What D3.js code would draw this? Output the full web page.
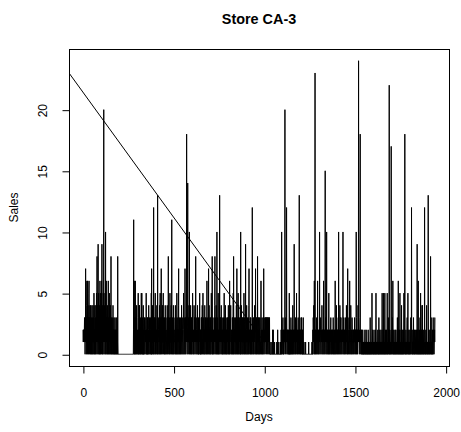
<!DOCTYPE html>
<html><head><meta charset="utf-8">
<script src="https://cdn.jsdelivr.net/npm/d3@7"></script>
<style>
body{margin:0;background:#fff}
svg{display:block}
text{font-family:"Liberation Sans", Arial, Helvetica, sans-serif;fill:#000}
</style>
</head><body>
<svg id="chart" width="461" height="432"></svg>
<script>
// ---- data (daily sales, day 1..1941) ----
const sales = [
2,1,2,2,1,2,1,2,3,1, 2,0,3,1,7,2,1,3,0,2, 4,6,1,3,0,6,2,4,1,3, 0,2,5,6,1,3,0,2,4,1,
3,0,4,1,2,3,0,2,1,4, 0,3,1,2,0,4,2,1,3,0, 5,1,2,0,3,4,1,2,0,3, 1,4,0,2,5,1,3,8,0,2,
4,1,3,9,0,2,5,1,3,0, 2,4,0,6,1,3,0,5,2,1, 3,0,6,2,9,1,4,0,3,2, 0,5,1,3,20,2,0,4,1,3,
2,5,0,1,10,3,0,2,6,1, 3,0,2,1,4,0,3,1,2,6, 0,2,1,3,0,5,1,2,0,3, 1,4,0,2,8,1,3,0,2,1,
0,3,1,2,0,4,1,0,2,1, 3,0,1,2,0,1,3,0,2,1, 0,2,1,3,0,1,2,0,1,3, 0,8,1,0,0,0,0,0,0,0,
0,0,0,0,0,0,0,0,0,0, 0,0,0,0,0,0,0,0,0,0, 0,0,0,0,0,0,0,0,0,0, 0,0,0,0,0,0,0,0,0,0,
0,0,0,0,0,0,0,0,0,0, 0,0,0,0,0,0,0,0,0,0, 0,0,0,0,0,0,0,0,0,0, 0,0,0,0,0,0,0,0,2,11,
1,0,6,2,0,3,1,0,6,2, 0,3,1,2,0,4,2,1,0,1, 2,1,0,3,5,0,2,1,0,4, 0,4,1,2,1,0,3,0,2,1,
1,5,0,1,5,1,0,3,2,0, 2,0,4,1,0,2,0,1,3,2, 1,0,3,2,1,1,2,0,5,1, 2,0,1,0,3,0,3,1,1,0,
0,2,4,1,0,2,1,3,2,0, 1,3,2,0,1,2,5,0,7,0, 2,1,0,4,2,1,1,3,0,12, 1,0,3,2,1,3,0,1,5,1,
0,3,2,1,1,2,0,4,1,2, 0,13,2,1,0,3,2,1,1,0, 2,1,4,0,2,5,1,0,3,2, 1,7,2,0,3,1,2,0,4,1,
2,1,5,1,0,2,3,1,3,0, 2,1,0,4,2,1,0,3,2,1, 1,0,2,1,4,2,0,3,1,2, 8,1,0,2,1,3,2,0,1,5,
2,0,3,1,2,1,4,0,3,11, 1,2,0,3,1,2,0,1,4,1, 0,3,2,2,1,1,0,2,1,4, 0,2,1,3,2,0,1,5,2,0,
2,1,3,0,2,1,4,7,0,2, 1,0,3,2,1,2,1,0,3,1, 2,0,1,4,2,1,0,3,2,1, 1,0,2,3,5,2,0,1,3,2,
1,0,7,2,1,3,0,2,3,1, 2,18,3,1,0,2,1,14,1,2, 0,3,1,2,4,1,10,0,2,1, 1,2,0,4,1,3,2,0,1,3,
2,0,3,1,5,2,1,0,1,2, 1,0,4,2,1,3,2,0,3,1, 2,8,1,0,3,2,1,1,0,2, 1,4,2,0,2,1,0,3,0,2,
1,3,2,5,0,2,1,0,2,0, 2,1,3,0,3,2,1,4,0,1, 1,5,2,0,1,3,2,0,0,2, 1,4,0,2,1,3,2,0,1,3,
2,0,1,6,1,2,0,3,1,2, 1,0,7,2,1,4,0,2,1,3, 0,2,1,3,0,0,2,5,1,2, 1,0,8,0,2,3,1,2,0,1,
1,2,0,3,1,2,4,8,0,2, 1,3,2,0,4,1,2,0,10,1, 2,0,3,1,2,5,0,2,1,0, 0,2,1,13,2,0,3,1,2,3,
1,0,4,1,1,2,0,3,1,2, 0,1,0,2,3,1,2,0,5,1, 2,0,3,1,2,4,0,1,2,0, 0,2,1,3,0,2,3,1,2,0,
1,4,2,0,2,1,3,0,6,2, 1,0,3,2,4,1,2,0,1,1, 2,0,1,3,2,0,3,1,5,0, 8,1,2,0,3,1,2,1,0,2,
1,3,0,2,1,4,2,0,7,1, 2,0,3,1,2,5,0,1,4,2, 0,2,1,3,3,0,2,1,0,10, 1,2,0,4,1,2,1,0,3,1,
3,0,2,1,2,3,0,5,1,2, 0,3,1,2,1,0,9,1,2,0, 0,2,4,1,2,0,3,1,2,0, 1,3,2,0,4,7,1,2,1,0,
2,1,3,0,2,3,1,2,0,1, 1,2,0,12,3,1,2,0,3,2, 1,0,3,2,1,2,4,0,1,1, 2,7,0,1,3,2,0,3,1,1,
2,0,8,1,1,2,0,3,3,2, 0,3,1,2,0,3,2,1,1,0, 2,6,1,1,0,2,1,3,2,0, 1,2,2,0,3,1,7,2,0,1,
2,1,3,1,0,3,1,2,3,1, 3,1,0,3,1,2,3,1,0,3, 2,3,1,2,0,3,1,1,3,0, 1,0,0,0,0,0,0,1,0,0,
0,0,0,0,0,2,0,0,0,2, 0,0,0,0,0,0,1,0,0,0, 0,0,0,0,0,0,0,0,1,0, 0,0,0,2,0,0,0,0,0,1,
0,0,0,0,0,0,0,0,1,0, 1,0,2,1,0,10,1,2,0,1, 1,2,3,0,2,1,0,2,0,1, 1,2,1,20,2,3,1,0,2,1,
1,2,12,3,0,2,1,1,2,0, 2,1,1,0,2,1,0,5,2,0, 1,0,2,0,2,1,3,2,0,1, 2,0,1,1,2,0,4,1,2,0,
1,1,2,0,9,1,2,1,0,2, 1,3,0,2,1,2,1,5,0,2, 1,1,2,0,1,2,3,0,2,1, 1,2,13,0,2,1,1,2,0,1,
2,0,3,1,2,3,0,2,1,0, 2,0,0,1,3,0,0,0,1,0, 0,0,0,0,0,0,0,1,0,0, 0,0,0,0,0,0,0,0,0,0,
0,0,0,0,1,0,0,0,0,0, 0,0,0,0,0,0,0,0,0,0, 0,0,1,0,0,1,0,2,1,3, 2,1,4,0,2,6,1,0,2,23,
1,2,0,1,2,1,0,2,3,1, 2,0,1,6,1,2,0,1,1,2, 0,1,2,1,10,2,0,1,1,2, 3,1,0,2,1,1,2,4,0,2,
1,1,2,0,2,1,6,3,0,2, 1,2,1,0,2,15,1,3,2,0, 2,1,1,10,0,2,1,1,2,0, 1,1,2,0,2,5,1,1,0,2,
1,2,0,1,1,2,3,0,2,1, 1,0,2,1,2,1,0,2,1,3, 2,0,1,1,2,0,1,1,2,0, 6,1,2,0,1,2,1,4,0,2,
1,1,2,0,2,1,1,3,0,10, 2,1,1,0,2,1,4,2,0,3, 1,2,3,0,1,2,1,1,0,2, 1,2,1,10,0,2,1,3,1,0,
2,1,1,0,2,1,3,1,0,2, 1,1,4,2,0,1,1,2,0,7, 1,3,2,0,1,1,2,1,0,2, 6,1,2,0,1,1,4,2,0,1,
1,2,0,3,2,1,1,0,2,1, 1,2,0,1,2,1,1,3,0,2, 1,1,2,0,2,1,10,3,0,2, 1,2,1,0,2,1,4,2,1,24,
2,1,1,0,2,1,2,3,18,1, 2,0,1,1,2,0,1,2,0,1, 1,0,2,1,0,1,0,1,1,0, 1,0,1,1,2,0,1,0,1,1,
0,2,1,0,1,1,0,1,0,1, 1,0,2,1,0,1,1,0,1,0, 1,1,0,3,1,0,1,1,0,1, 0,1,1,5,0,1,2,0,1,1,
0,1,0,1,2,1,0,1,1,0, 1,0,2,1,0,5,1,0,1,1, 0,1,1,0,1,2,1,0,1,0, 1,3,0,1,1,0,2,1,0,1,
1,0,1,2,0,1,1,0,1,5, 0,1,1,0,2,1,0,5,1,0, 1,1,0,1,5,0,1,2,0,1, 1,0,1,2,0,1,1,5,0,1,
0,1,1,3,0,1,2,1,22,0, 1,0,2,1,0,1,1,0,2,17, 1,0,1,1,2,0,3,1,6,0, 1,1,0,2,1,0,1,1,0,1,
2,0,1,1,0,2,1,0,1,1, 0,1,1,3,0,1,2,0,6,1, 0,1,1,0,2,1,0,5,1,0, 1,1,0,2,1,0,4,1,0,1,
2,0,1,1,0,1,2,0,1,5, 1,0,1,1,18,0,1,1,0,1, 2,0,1,1,0,1,2,3,0,1, 1,5,0,1,1,0,2,1,0,1,
1,0,2,1,0,1,1,3,0,1, 1,12,2,0,1,1,0,1,2,0, 1,1,3,0,1,1,0,2,1,0, 0,1,2,1,0,1,1,0,1,2,
0,1,9,1,0,1,2,0,6,1, 0,1,1,0,2,1,0,1,3,0, 1,5,0,1,1,0,2,1,0,4, 1,4,0,1,1,0,2,1,0,1,
1,0,1,12,2,0,1,1,0,1, 2,0,1,1,4,0,1,1,0,1, 1,0,1,13,0,1,2,1,0,1, 1,0,2,1,0,1,8,1,0,1,
1,0,1,3,0,1,2,0,1,1, 0,1,2,1,3,0,1,1,2,1, 3
];
const xTicks = [0, 500, 1000, 1500, 2000];
const yTicks = [0, 5, 10, 15, 20];
const trendDays = [-80, 1000];
const trendSales = [23.07, 0.98];
const titleText = "Store CA-3", xLabel = "Days", yLabel = "Sales";

// ---- layout ----
const svg = d3.select("#chart");
const box = {l: 69, r: 449, t: 49, b: 366};
const days = sales.map((_, i) => i + 1);
const xr = d3.extent(days), yr = [d3.min(sales), d3.max(sales)];
const xpad = (xr[1] - xr[0]) * 0.04, ypad = (yr[1] - yr[0]) * 0.04;
const x = d3.scaleLinear().domain([xr[0] - xpad, xr[1] + xpad]).range([box.l, box.r]);
const y = d3.scaleLinear().domain([yr[0] - ypad, yr[1] + ypad]).range([box.b, box.t]);

svg.append("defs").append("clipPath").attr("id", "clip")
  .append("rect").attr("x", box.l).attr("y", box.t)
  .attr("width", box.r - box.l).attr("height", box.b - box.t);

const g = svg.append("g").attr("clip-path", "url(#clip)");
g.append("path")
  .datum(days.map((d, i) => [d, sales[i]]))
  .attr("fill", "none").attr("stroke", "#000").attr("stroke-width", 1)
  .attr("d", d3.line().x(d => x(d[0])).y(d => y(d[1])));

g.append("path")
  .datum(trendDays.map((d, i) => [d, trendSales[i]]))
  .attr("fill", "none").attr("stroke", "#000").attr("stroke-width", 1)
  .attr("d", d3.line().x(d => x(d[0])).y(d => y(d[1])));

// box
svg.append("rect").attr("x", box.l + 0.5).attr("y", box.t + 0.5)
  .attr("width", box.r - box.l).attr("height", box.b - box.t)
  .attr("fill", "none").attr("stroke", "#000").attr("stroke-width", 1);

// x axis
const xa = svg.append("g").attr("transform", `translate(0.5,${box.b + 0.5})`)
  .call(d3.axisBottom(x).tickValues(xTicks).tickSize(7).tickFormat(d3.format("d")));
xa.select(".domain").attr("d", `M${x(xTicks[0])},0H${x(xTicks[xTicks.length-1])}`);
xa.selectAll(".tick line").attr("stroke", "#000");
xa.selectAll(".tick text").attr("y", 30).attr("dy", 0).style("font-size", "12px");
xa.attr("font-family", null).attr("font-size", null);

// y axis
const ya = svg.append("g").attr("transform", `translate(${box.l + 0.5},0.5)`)
  .call(d3.axisLeft(y).tickValues(yTicks).tickSize(7).tickFormat(d3.format("d")));
ya.select(".domain").attr("d", `M0,${y(yTicks[0])}V${y(yTicks[yTicks.length-1])}`);
ya.selectAll(".tick line").attr("stroke", "#000");
ya.selectAll(".tick text").attr("x", 0).attr("dy", 0)
  .attr("text-anchor", "middle")
  .attr("transform", "translate(-22.5,0) rotate(-90)")
  .style("font-size", "12px");
ya.attr("font-family", null).attr("font-size", null);

// labels
svg.append("text").attr("x", (box.l + box.r) / 2).attr("y", 24)
  .attr("text-anchor", "middle").style("font-size", "14.4px").style("font-weight", "bold")
  .text(titleText);
svg.append("text").attr("x", (box.l + box.r) / 2).attr("y", 421)
  .attr("text-anchor", "middle").style("font-size", "12px").text(xLabel);
svg.append("text").attr("transform", `translate(18.3,${(box.t + box.b) / 2}) rotate(-90)`)
  .attr("text-anchor", "middle").style("font-size", "12px").text(yLabel);
</script>
</body></html>
